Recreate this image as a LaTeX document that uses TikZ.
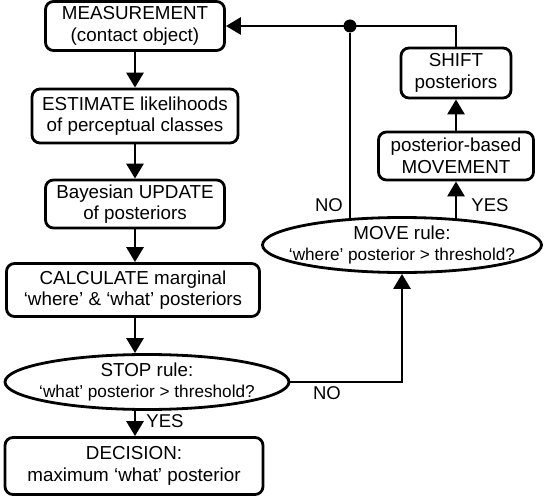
\documentclass[tikz,border=0pt]{standalone}
\usepackage{fontspec}
\setmainfont{Liberation Sans}
\usepackage{tikz}
\usetikzlibrary{arrows.meta,backgrounds,shapes.geometric}

\begin{document}
\begin{tikzpicture}[x=1pt,y=-1pt,
  stepbox/.style={draw, line width=2.8pt, rounded corners=8pt, fill=white, align=center,
    inner sep=0pt, font=\fontsize{18.8}{21.5}\selectfont},
  rulebox/.style={ellipse, draw, line width=2.8pt, fill=white, align=center,
    inner xsep=-30pt, inner ysep=-4pt, minimum height=55pt, font=\fontsize{18.8}{21.5}\selectfont},
  flow/.style={line width=2.8pt, -{Triangle[length=15pt,width=17pt]}},
  link/.style={line width=2.8pt},
  lbl/.style={font=\fontsize{18.5}{20}\selectfont, inner sep=0pt},
  dot/.style={circle, fill, inner sep=0pt, minimum size=13pt}]
\useasboundingbox (0,0) rectangle (544,500);

% left column
\node[stepbox, minimum width=179pt, minimum height=49pt] (meas) at (135,26)
  {MEASUREMENT\\(contact object)};
\node[stepbox, minimum width=206pt, minimum height=54pt] (est) at (135,116)
  {ESTIMATE likelihoods\\of perceptual classes};
\node[stepbox, minimum width=179pt, minimum height=48pt] (bayes) at (135,204)
  {Bayesian UPDATE\\of posteriors};
\node[stepbox, minimum width=253pt, minimum height=53pt] (calc) at (133,290)
  {CALCULATE marginal\\‘where’ \& ‘what’ posteriors};
\node[rulebox, minimum width=284pt] (stop) at (147,382)
  {STOP rule:\\{\fontsize{17.2}{20}\selectfont ‘what’ posterior > threshold?}};
\node[stepbox, minimum width=258pt, minimum height=57pt] (decision) at (134,466)
  {DECISION:\\maximum ‘what’ posterior};

% right column
\node[rulebox, minimum width=279pt] (move) at (402,245)
  {MOVE rule:\\{\fontsize{17.2}{20}\selectfont ‘where’ posterior > threshold?}};
\node[stepbox, minimum width=155pt, minimum height=48pt] (movement) at (456,156)
  {posterior-based\\MOVEMENT};
\node[stepbox, minimum width=110pt, minimum height=50pt] (shift) at (456,73)
  {SHIFT\\posteriors};
\node[dot] (join) at (350,26) {};

\draw[flow] (meas) -- (est);
\draw[flow] (est) -- (bayes);
\draw[flow] (bayes.south) -- (bayes.south |- calc.north);
\draw[flow] (calc.south -| meas) -- (meas |- stop.north);
\draw[flow] (meas |- stop.south) -- (meas |- decision.north);
\draw[flow] (stop.east) -| (move.south);
\draw[flow] (movement) -- (shift);
\draw[flow] (shift.north) |- (meas.east);
\begin{scope}[on background layer]
  \draw[link] (join) -- (join |- move.center);
  \draw[flow] (movement |- move.center) -- (movement.south);
\end{scope}

\node[lbl] (yes1) at (165,421) {YES};
\node[lbl] (no1) at (327,393) {NO};
\node[lbl] (no2) at (329,205) {NO};
\node[lbl] (yes2) at (490,205) {YES};
\end{tikzpicture}
\end{document}
